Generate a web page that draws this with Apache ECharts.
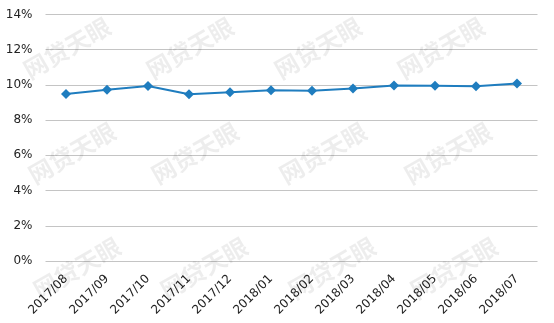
<!DOCTYPE html>
<html><head><meta charset="utf-8">
<script src="https://cdn.jsdelivr.net/npm/echarts@6/dist/echarts.min.js"></script>
<style>html,body{margin:0;padding:0;background:#fff}#c{width:554px;height:323px}</style>
</head><body><div id="c"></div>
<script>
const categories = ['2017/08','2017/09','2017/10','2017/11','2017/12','2018/01','2018/02','2018/03','2018/04','2018/05','2018/06','2018/07'];
const values = [9.49, 9.73, 9.94, 9.47, 9.58, 9.70, 9.67, 9.80, 9.97, 9.95, 9.92, 10.08];
const yTicks = [0, 2, 4, 6, 8, 10, 12, 14];
const watermark = '网贷天眼';
const wmPos = [[67,48],[190,48],[318,48],[441,48],[72,153],[195,153],[323,153],[448,153],[77,268],[204,268],[332,268],[454,268]];

const chart = echarts.init(document.getElementById('c'));
chart.setOption({
  animation: false,
  graphic: wmPos.map(p => ({
    type: 'text', x: p[0], y: p[1], rotation: Math.PI / 6, z: 100, silent: true,
    style: { text: watermark, fill: 'rgba(0,0,0,0.07)', font: 'bold 24px "Noto Sans CJK SC"', textAlign: 'center', textVerticalAlign: 'middle', align: 'center', verticalAlign: 'middle' }
  })),
  grid: { left: 45.5, right: 16.5, top: 14.5, bottom: 62 },
  xAxis: {
    type: 'category', data: categories, boundaryGap: true,
    axisLine: { show: false }, axisTick: { show: false },
    axisLabel: { rotate: 45, color: '#222', fontSize: 12, fontFamily: 'DejaVu Sans', margin: 16, interval: 0 }
  },
  yAxis: {
    type: 'value', min: yTicks[0], max: yTicks[yTicks.length - 1], interval: 2,
    axisLine: { show: false }, axisTick: { show: false },
    axisLabel: { formatter: v => v + '%', color: '#222', fontSize: 12, fontFamily: 'DejaVu Sans', margin: 13 },
    splitLine: { lineStyle: { color: '#c4c4c4', width: 1 } }
  },
  series: [{
    type: 'line', data: values, symbol: 'diamond', symbolSize: 10,
    lineStyle: { color: '#1f7dbf', width: 2 },
    itemStyle: { color: '#1f7dbf' }
  }]
});
</script></body></html>
